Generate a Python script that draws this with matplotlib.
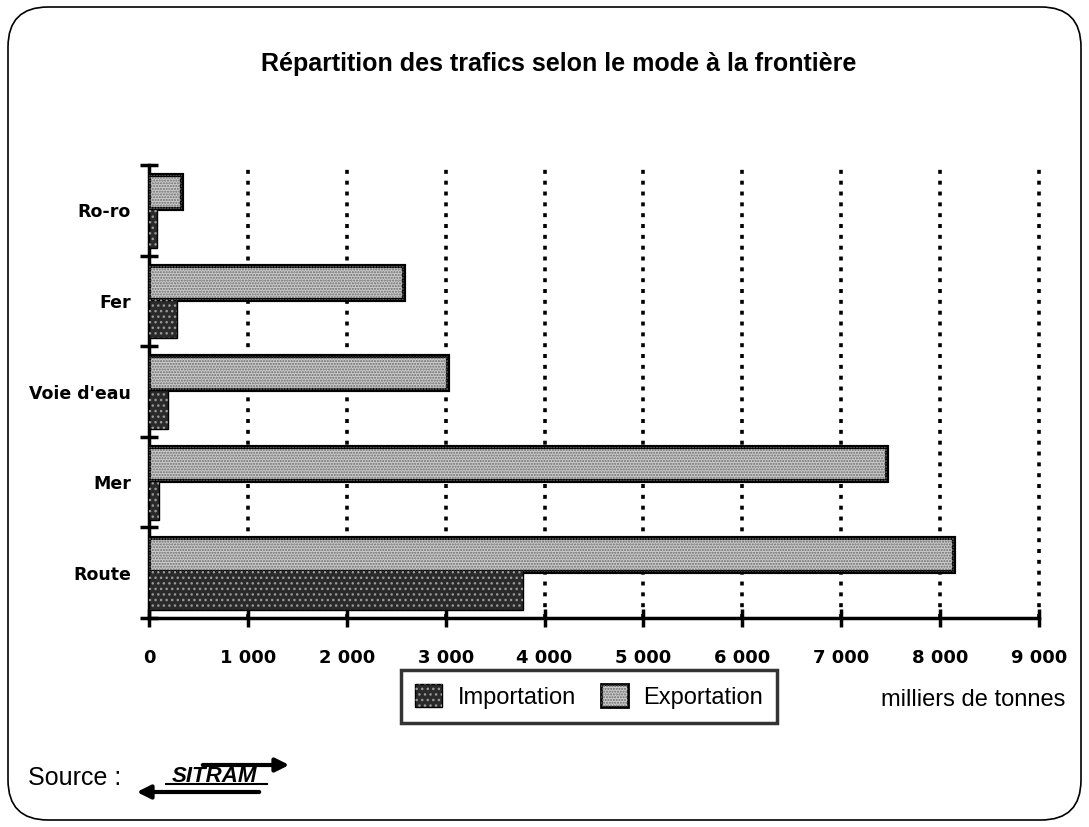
import matplotlib
matplotlib.use("Agg")
import matplotlib.pyplot as plt
from matplotlib.patches import FancyBboxPatch, Patch
from matplotlib.lines import Line2D

# ========== data (milliers de tonnes) ==========
modes = ["Route", "Mer", "Voie d'eau", "Fer", "Ro-ro"]
importation = [3780, 100, 195, 280, 80]
exportation = [8140, 7460, 3020, 2580, 330]
xticks = [0, 1000, 2000, 3000, 4000, 5000, 6000, 7000, 8000, 9000]
xtick_labels = ["0", "1 000", "2 000", "3 000", "4 000", "5 000",
                "6 000", "7 000", "8 000", "9 000"]

imp_color = "#2a2a2a"
exp_color = "#cbcbcb"
sans = "Liberation Sans"

fig = plt.figure(figsize=(10.89, 8.27), dpi=100)
ax = fig.add_axes([0.1368, 0.2527, 0.8173, 0.5478])

# rounded outer frame
frame = FancyBboxPatch((0.08, 0.07), 10.73, 8.13,
                       boxstyle="round,pad=0,rounding_size=0.4",
                       transform=fig.dpi_scale_trans, fill=False,
                       edgecolor="black", linewidth=1.2)
fig.add_artist(frame)

# dotted gridlines
for xv in xticks[1:]:
    ax.axvline(xv, color="black", linewidth=2.6, linestyle=(0, (1.1, 1.9)),
               zorder=1, clip_on=False)

y = list(range(len(modes)))
y_exp = [v + 0.2 for v in y]
y_imp = [v - 0.2 for v in y]
ax.barh(y_exp, exportation, height=0.375, color=exp_color,
        edgecolor="black", linewidth=3, zorder=3)
ax.barh(y_exp, exportation, height=0.375, color="none",
        edgecolor="#6a6a6a", linewidth=0, hatch="......", zorder=4)
ax.barh(y_imp, importation, height=0.43, color=imp_color,
        edgecolor="black", linewidth=1.0, zorder=3)
ax.barh(y_imp, importation, height=0.43, color="none",
        edgecolor="#9a9a9a", linewidth=0, hatch="...", zorder=4)

ax.set_xlim(0, 9000)
ax.set_ylim(-0.5, 4.5)
ax.set_xticks(xticks)
ax.set_xticklabels(xtick_labels, fontsize=13, fontweight="bold")
ax.set_yticks([v + 0.5 for v in range(-1, len(modes))])
ax.set_yticklabels([])
ax.set_yticks(y, minor=True)
ax.set_yticklabels(modes, minor=True, fontsize=12.5, fontweight="bold")
ax.tick_params(axis="y", which="minor", length=0, pad=13)
ax.tick_params(axis="y", which="major", direction="inout", length=13, width=2.5)
ax.tick_params(axis="x", direction="inout", length=13, width=2.5, pad=16)

for s in ["top", "right"]:
    ax.spines[s].set_visible(False)
for s in ["left", "bottom"]:
    ax.spines[s].set_linewidth(2.5)

fig.text(0.513, 0.923, "Répartition des trafics selon le mode à la frontière",
         ha="center", va="center", fontsize=18, fontweight="bold", family=sans)

handles = [(Patch(facecolor=imp_color, edgecolor="black"),
            Patch(facecolor="none", edgecolor="#9a9a9a", linewidth=0, hatch="...")),
           (Patch(facecolor=exp_color, edgecolor="black", linewidth=2),
            Patch(facecolor="none", edgecolor="#6a6a6a", linewidth=0, hatch="......"))]
leg = fig.legend(handles=handles, labels=["Importation", "Exportation"],
                 loc="center", bbox_to_anchor=(0.541, 0.158),
                 ncol=2, frameon=True, fancybox=False, handlelength=1.15,
                 handleheight=1.15, handletextpad=0.65, columnspacing=1.05,
                 borderpad=0.6, borderaxespad=0,
                 prop={"family": sans, "size": 17})
leg.get_frame().set_edgecolor("black")
leg.get_frame().set_linewidth(2.5)

fig.text(0.894, 0.154, "milliers de tonnes", ha="center", va="center",
         fontsize=17, family=sans)

# source with SITRAM logo
fig.text(0.026, 0.059, "Source :", ha="left", va="center", fontsize=18,
         family=sans)
fig.text(0.197, 0.0615, "SITRAM", ha="center", va="center", fontsize=16,
         fontweight="bold", style="italic", family=sans)
fig.add_artist(Line2D([0.152, 0.245], [0.052, 0.052], color="black",
                      linewidth=1.5, transform=fig.transFigure))
ax.annotate("", xy=(292, 827 - 765), xytext=(200, 827 - 765),
            xycoords="figure pixels", textcoords="figure pixels",
            arrowprops=dict(arrowstyle="-|>", lw=3, color="black",
                            mutation_scale=20))
ax.annotate("", xy=(134, 827 - 792), xytext=(262, 827 - 792),
            xycoords="figure pixels", textcoords="figure pixels",
            arrowprops=dict(arrowstyle="-|>", lw=3, color="black",
                            mutation_scale=20))

fig.savefig("out.png", dpi=100)
